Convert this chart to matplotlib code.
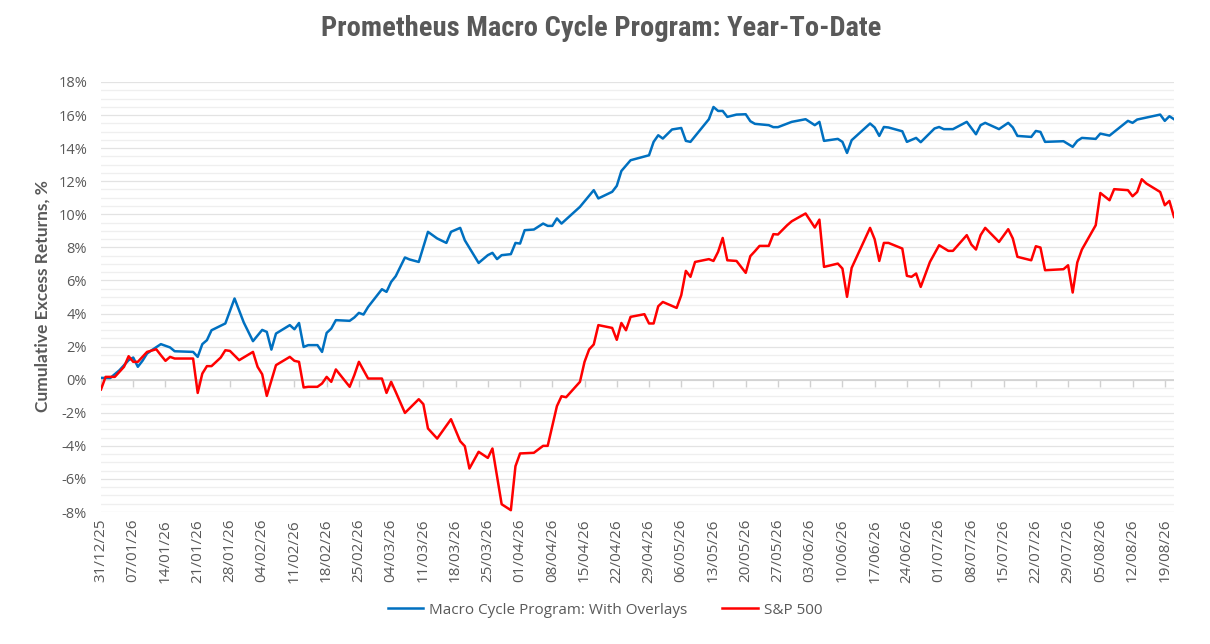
import numpy as np
import pandas as pd
import matplotlib
matplotlib.use("Agg")
import matplotlib.pyplot as plt
from matplotlib import font_manager
from matplotlib.ticker import MultipleLocator, FuncFormatter

# Year-to-date cumulative excess returns (%), day offsets from 31/12/2025
start = pd.Timestamp("2025-12-31")

program_day = [0, 2, 4, 6, 7, 8, 9, 10, 11, 13, 15, 16, 20, 21, 22, 23, 24, 27, 29, 31,
               33, 35, 36, 37, 38, 41, 42, 43, 44, 45, 47, 48, 49, 50, 51, 54, 55, 56, 57, 58,
               61, 62, 63, 64, 66, 67, 69, 71, 73, 75, 76, 78, 79, 82, 84, 85, 86, 87, 89, 90,
               91, 92, 94, 96, 97, 98, 99, 100, 104, 107, 108, 111, 112, 113, 115, 119, 120, 121, 122, 124,
               126, 127, 128, 132, 133, 134, 135, 136, 138, 140, 141, 142, 145, 146, 147, 150, 153, 155, 156, 157,
               160, 161, 162, 163, 167, 168, 169, 170, 171, 174, 175, 177, 178, 181, 182, 183, 185, 188, 190, 191,
               192, 195, 197, 198, 199, 202, 203, 204, 205, 209, 211, 212, 213, 216, 217, 219, 223, 224, 225, 230,
               231, 232, 233]
program_ret = [0.11, 0.10, 0.57, 1.18, 1.34, 0.78, 1.14, 1.58, 1.78, 2.15, 1.95, 1.72, 1.68, 1.38, 2.15, 2.39, 2.99, 3.40, 4.91, 3.46,
               2.33, 3.01, 2.89, 1.82, 2.79, 3.30, 3.05, 3.43, 1.98, 2.09, 2.09, 1.68, 2.83, 3.09, 3.60, 3.56, 3.76, 4.04, 3.94, 4.40,
               5.47, 5.31, 5.91, 6.26, 7.39, 7.27, 7.12, 8.94, 8.54, 8.27, 8.94, 9.18, 8.43, 7.06, 7.53, 7.67, 7.29, 7.53, 7.59, 8.27,
               8.23, 9.04, 9.08, 9.44, 9.30, 9.30, 9.75, 9.44, 10.45, 11.46, 10.96, 11.36, 11.72, 12.62, 13.27, 13.57, 14.38, 14.78, 14.58, 15.13,
               15.22, 14.44, 14.38, 15.75, 16.49, 16.25, 16.25, 15.89, 16.03, 16.05, 15.63, 15.47, 15.39, 15.27, 15.27, 15.59, 15.75, 15.39, 15.59, 14.44,
               14.56, 14.38, 13.71, 14.48, 15.49, 15.25, 14.74, 15.28, 15.25, 15.02, 14.38, 14.62, 14.36, 15.19, 15.28, 15.15, 15.15, 15.59, 14.84, 15.39,
               15.53, 15.15, 15.53, 15.25, 14.74, 14.68, 15.04, 14.98, 14.38, 14.42, 14.08, 14.44, 14.62, 14.56, 14.88, 14.76, 15.65, 15.53, 15.73, 16.03,
               15.65, 15.93, 15.75]

spx_day = [0, 1, 3, 5, 6, 7, 8, 10, 12, 13, 14, 15, 16, 20, 21, 22, 23, 24, 26, 27,
           28, 30, 33, 34, 35, 36, 38, 41, 42, 43, 44, 45, 47, 48, 49, 50, 51, 54, 55, 56,
           58, 61, 62, 63, 64, 66, 69, 70, 71, 73, 76, 78, 79, 80, 82, 84, 85, 87, 89, 90,
           91, 94, 96, 97, 99, 100, 101, 104, 105, 106, 107, 108, 111, 112, 113, 114, 115, 118, 119, 120,
           121, 122, 125, 126, 127, 128, 129, 132, 133, 134, 135, 136, 138, 140, 141, 142, 143, 145, 146, 147,
           149, 150, 153, 155, 156, 157, 160, 161, 162, 163, 167, 168, 169, 170, 171, 174, 175, 176, 177, 178,
           180, 182, 184, 185, 188, 189, 190, 191, 192, 195, 197, 198, 199, 202, 203, 204, 205, 209, 210, 211,
           212, 213, 216, 217, 219, 220, 223, 224, 225, 226, 227, 230, 231, 232, 233]
spx_ret = [-0.59, 0.17, 0.17, 0.78, 1.42, 1.08, 1.08, 1.68, 1.84, 1.48, 1.14, 1.38, 1.28, 1.28, -0.80, 0.37, 0.82, 0.82, 1.34, 1.78,
           1.74, 1.18, 1.68, 0.78, 0.33, -0.98, 0.88, 1.38, 1.14, 1.08, -0.47, -0.43, -0.43, -0.23, 0.17, -0.13, 0.62, -0.43, 0.27, 1.08,
           0.07, 0.07, -0.80, -0.13, -0.74, -2.01, -1.18, -1.48, -2.95, -3.56, -2.39, -3.72, -4.02, -5.37, -4.36, -4.73, -4.16, -7.53, -7.89, -5.23,
           -4.46, -4.42, -4.00, -4.00, -1.60, -1.00, -1.06, -0.13, 1.08, 1.83, 2.13, 3.30, 3.13, 2.41, 3.43, 2.99, 3.80, 3.96, 3.40, 3.40,
           4.44, 4.70, 4.34, 5.11, 6.58, 6.22, 7.12, 7.29, 7.18, 7.73, 8.57, 7.22, 7.18, 6.46, 7.47, 7.77, 8.09, 8.09, 8.80, 8.78,
           9.34, 9.58, 10.05, 9.20, 9.68, 6.82, 7.02, 6.72, 5.01, 6.76, 9.18, 8.49, 7.18, 8.27, 8.27, 7.93, 6.28, 6.22, 6.42, 5.61,
           7.12, 8.13, 7.79, 7.79, 8.74, 8.17, 7.87, 8.74, 9.18, 8.33, 9.10, 8.54, 7.43, 7.22, 8.07, 7.99, 6.62, 6.68, 6.92, 5.27,
           7.09, 7.87, 9.34, 11.29, 10.85, 11.52, 11.46, 11.09, 11.35, 12.12, 11.86, 11.35, 10.55, 10.81, 9.84]

labels = ["Macro Cycle Program: With Overlays", "S&P 500"]
week_ticks = pd.date_range("2025-12-31", "2026-08-19", freq="7D")
end = pd.Timestamp("2026-08-21")

program_dates = start + pd.to_timedelta(program_day, unit="D")
spx_dates = start + pd.to_timedelta(spx_day, unit="D")

# the title face is a very condensed one; take the narrowest installed family
fams = {f.name for f in font_manager.fontManager.ttflist}
title_kw = dict(family="DejaVu Sans", fontsize=15.5)
for name, size in [("Roboto Condensed", 20.5), ("Liberation Sans Narrow", 20.5),
                   ("Open Sans Condensed", 20.5)]:
    if name in fams:
        title_kw = dict(family=name, fontsize=size)
        break

grey = "#595959"
W, H = 1210, 644
fig = plt.figure(figsize=(W / 100, H / 100), dpi=100)
ax = fig.add_axes([101 / W, 1 - 512 / H, (1174 - 101) / W, (512 - 82) / H])

ax.set_xlim(start, end)
ax.set_ylim(-8, 18)
ax.yaxis.set_major_locator(MultipleLocator(2))
ax.yaxis.set_minor_locator(MultipleLocator(0.5))
ax.yaxis.set_major_formatter(FuncFormatter(lambda v, p: "%d%%" % round(v)))
ax.grid(which="major", axis="y", color="#E3E3E3", lw=0.9)
ax.grid(which="minor", axis="y", color="#EFEFEF", lw=0.9)
ax.set_axisbelow(True)
for s in ax.spines.values():
    s.set_visible(False)

ax.set_xticks(week_ticks)
ax.set_xticklabels([d.strftime("%d/%m/%y") for d in week_ticks], rotation=90)
ax.tick_params(axis="x", length=0, pad=5, labelsize=11, labelcolor=grey)
ax.tick_params(axis="y", which="both", length=0, pad=10, labelsize=10.5, labelcolor=grey)
for t in ax.get_xticklabels() + ax.get_yticklabels():
    t.set_family("Open Sans")

# zero line with weekly tick marks
ax.axhline(0, color="#D0D0D0", lw=1.2, zorder=1.5)
sec = ax.secondary_xaxis(8 / 26)
sec.set_xticks(week_ticks)
sec.tick_params(length=5, width=1, color="#D0D0D0", labelbottom=False)
sec.spines["bottom"].set_visible(False)

l1, = ax.plot(program_dates, program_ret, color="#0070C0", lw=1.8, zorder=3)
l2, = ax.plot(spx_dates, spx_ret, color="#FF0000", lw=1.8, zorder=3)

fig.text(0.497, 1 - 29 / H, "Prometheus Macro Cycle Program: Year-To-Date",
         ha="center", va="center", weight="bold", color=grey, **title_kw)
fig.text(43 / W, 1 - 296 / H, "Cumulative Excess Returns, %", rotation=90,
         ha="center", va="center", fontsize=12.5, weight="bold", color=grey, family="Lato")

fig.legend([l1, l2], labels, loc="center", bbox_to_anchor=(0.5, 1 - 610 / H), ncol=2,
           frameon=False, handlelength=2.3, columnspacing=2.3, handletextpad=0.4,
           prop={"family": "Open Sans", "size": 11}, labelcolor=grey)

fig.savefig("out.png", dpi=100)
